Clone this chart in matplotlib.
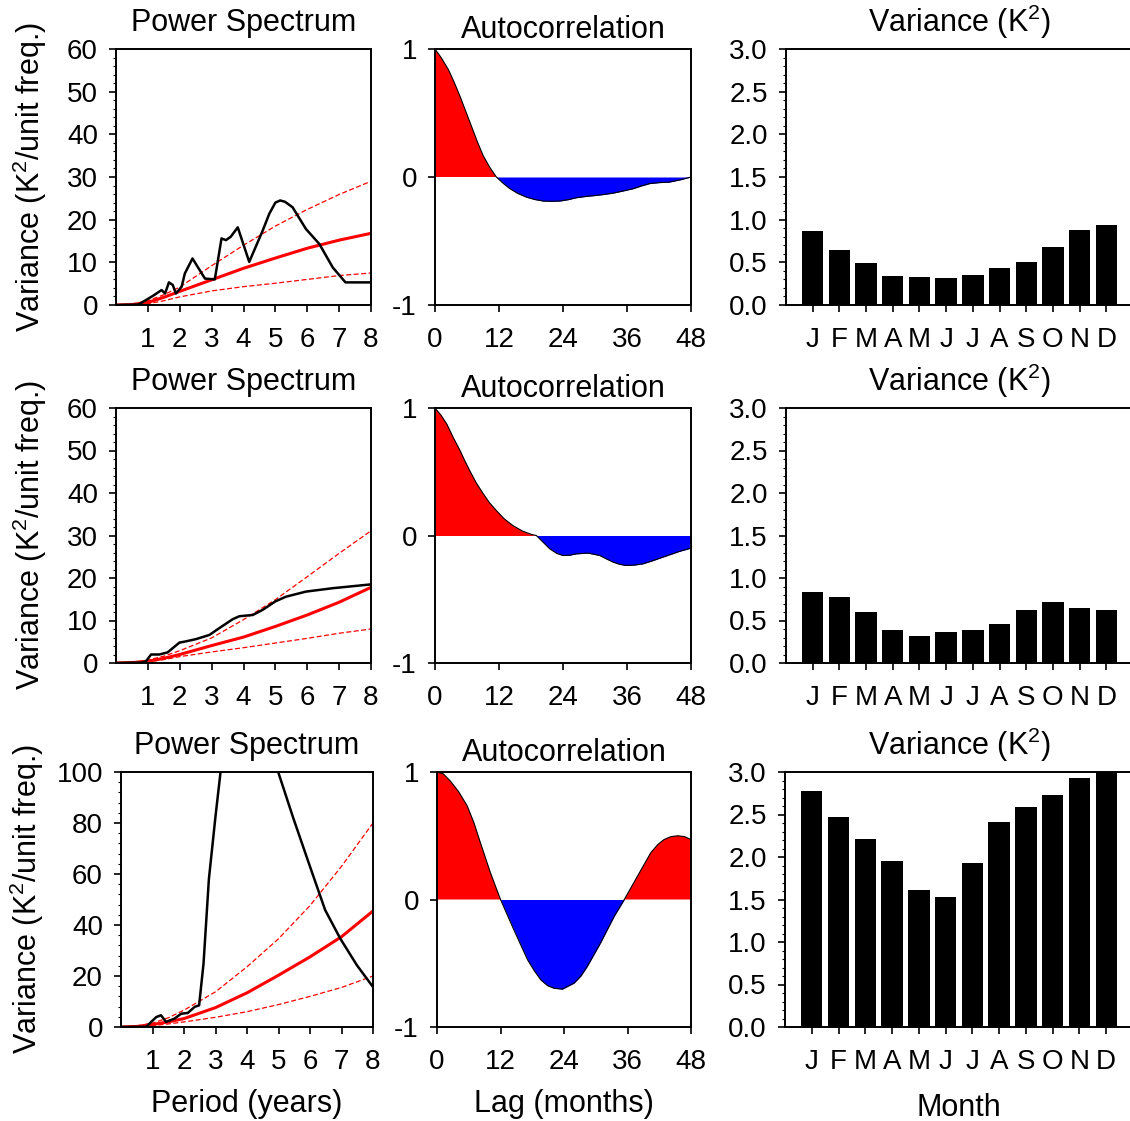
import matplotlib
matplotlib.use("Agg")
import matplotlib.pyplot as plt
from matplotlib.ticker import AutoMinorLocator, FormatStrFormatter

plt.rcParams['font.family'] = ['Liberation Sans', 'DejaVu Sans']
plt.rcParams['mathtext.fontset'] = 'custom'
plt.rcParams['mathtext.rm'] = 'Liberation Sans'
plt.rcParams['mathtext.it'] = 'Liberation Sans'
plt.rcParams['axes.unicode_minus'] = False

# ---- power spectrum (period in years) ----
period1 = [0, 0.7, 0.95, 1.17, 1.43, 1.54, 1.66, 1.78, 1.88, 2.06, 2.16, 2.4, 2.79, 3.1, 3.31,
           3.45, 3.6, 3.82, 4.18, 4.6, 4.81, 5.0, 5.15, 5.3, 5.54, 5.96, 6.38, 6.8, 7.2, 8.0]
power1 = [0, 0.1, 1.2, 2.2, 3.5, 2.7, 5.3, 4.7, 2.7, 4.3, 7.4, 10.9, 6.2, 6.0, 15.6,
          15.2, 16.0, 18.2, 10.1, 17.4, 21.4, 24.0, 24.5, 24.2, 22.9, 17.8, 14.3, 8.8, 5.3, 5.3]

period2 = [0, 0.8, 0.94, 1.1, 1.36, 1.62, 1.99, 2.2, 2.5, 2.93, 3.24, 3.66, 3.87, 4.29, 4.6,
           5.0, 5.33, 5.96, 6.8, 8.0]
power2 = [0, 0.1, 0.4, 2.0, 2.0, 2.5, 4.8, 5.1, 5.6, 6.6, 8.2, 10.3, 11.0, 11.3, 12.5,
          14.5, 15.6, 16.8, 17.6, 18.5]

period3 = [0, 0.8, 1.12, 1.27, 1.43, 1.7, 1.91, 2.12, 2.34, 2.48, 2.62, 2.79, 3.0, 3.16, 3.5,
           4.0, 4.5, 4.99, 5.47, 6.0, 6.48, 6.96, 7.49, 8.0]
power3 = [0, 0.1, 3.9, 4.6, 2.0, 3.3, 5.2, 5.5, 7.9, 8.5, 24.9, 58, 82.6, 100, 135,
          150, 130, 100, 81.9, 62.9, 45.9, 34.7, 24.2, 15.7]

# red-noise spectrum and its confidence bounds
red_period = [0, 0.5, 1, 1.5, 2, 3, 4, 5, 6, 7, 8]
markov1 = [0, 0.1, 0.6, 1.8, 3.2, 5.9, 8.6, 11.0, 13.3, 15.2, 16.8]
upper1 = [0, 0.2, 1.0, 2.4, 4.2, 9.2, 14.0, 18.5, 22.4, 25.9, 29.0]
lower1 = [0, 0.05, 0.3, 1.0, 1.9, 3.3, 4.3, 5.1, 6.0, 6.9, 7.5]
markov2 = [0, 0.1, 0.4, 1.1, 2.0, 4.1, 6.1, 8.6, 11.3, 14.3, 17.8]
upper2 = [0, 0.15, 0.7, 1.6, 2.9, 5.9, 10.2, 14.9, 20.3, 25.8, 31.1]
lower2 = [0, 0.05, 0.3, 0.8, 1.5, 2.6, 3.6, 4.7, 5.8, 7.0, 8.0]
markov3 = [0, 0.2, 1.0, 2.0, 3.3, 7.6, 13.4, 20.3, 27.5, 35.4, 45.5]
upper3 = [0, 0.4, 1.5, 3.6, 6.6, 13.8, 23.6, 34.6, 47.6, 63.0, 80.0]
lower3 = [0, 0.1, 0.5, 1.2, 2.0, 3.8, 6.0, 8.8, 12.0, 15.5, 20.0]

# ---- autocorrelation (lag in months) ----
lag1 = [0, 1.2, 2.5, 3.6, 4.7, 5.8, 6.9, 8.0, 9.0, 10.2, 11.5, 12.8, 14, 15.5, 17.1, 18.7, 20.3,
        21.8, 23.4, 25, 26.5, 28.3, 30.2, 31.8, 33.4, 35.2, 37.1, 38.7, 40.2, 42, 43.9, 46, 48]
acf1 = [1.0, 0.93, 0.84, 0.74, 0.63, 0.51, 0.39, 0.27, 0.17, 0.08, 0.0, -0.05, -0.09, -0.128,
        -0.157, -0.176, -0.188, -0.19, -0.188, -0.177, -0.162, -0.152, -0.144, -0.136, -0.126,
        -0.11, -0.092, -0.07, -0.052, -0.044, -0.04, -0.022, 0.0]
lag2 = [0, 1.1, 2.2, 3.4, 4.7, 5.6, 6.5, 7.7, 9.0, 10.2, 11.5, 13, 14.6, 16.4, 18.1, 19, 20.2,
        21.5, 22.8, 24, 25.2, 26.5, 28.7, 30.9, 32.2, 33.4, 34.6, 35.8, 37.4, 39, 40.8, 42.7,
        44.3, 45.8, 48]
acf2 = [1.0, 0.945, 0.875, 0.77, 0.666, 0.585, 0.51, 0.415, 0.33, 0.258, 0.196, 0.13, 0.078,
        0.035, 0.008, 0.0, -0.05, -0.104, -0.14, -0.157, -0.155, -0.144, -0.138, -0.157,
        -0.185, -0.209, -0.226, -0.235, -0.232, -0.222, -0.198, -0.17, -0.147, -0.125, -0.099]
lag3 = [0, 1.2, 2.5, 4.1, 5.7, 7.0, 8.2, 10.1, 12, 14.5, 17.1, 18.4, 19.6, 20.9, 22.1, 23.7,
        25.9, 27.2, 28.4, 30.9, 33.5, 35.4, 37.9, 40.4, 41.7, 42.9, 44.2, 45.5, 46.8, 48]
acf3 = [1.0, 0.985, 0.93, 0.845, 0.735, 0.6, 0.446, 0.21, 0.0, -0.236, -0.472, -0.56, -0.63,
        -0.676, -0.696, -0.703, -0.656, -0.6, -0.525, -0.341, -0.131, 0.0, 0.184, 0.367, 0.43,
        0.47, 0.493, 0.5, 0.493, 0.47]

# ---- monthly variance ----
months = ['J', 'F', 'M', 'A', 'M', 'J', 'J', 'A', 'S', 'O', 'N', 'D']
var1 = [0.87, 0.644, 0.49, 0.334, 0.326, 0.314, 0.353, 0.432, 0.506, 0.683, 0.879, 0.942]
var2 = [0.833, 0.782, 0.602, 0.383, 0.313, 0.364, 0.391, 0.458, 0.618, 0.723, 0.645, 0.618]
var3 = [2.776, 2.472, 2.213, 1.949, 1.61, 1.531, 1.929, 2.409, 2.59, 2.732, 2.925, 3.02]

W, H = 1130, 1121
fig = plt.figure(figsize=(W / 100, H / 100), dpi=100)


def px_axes(l, t, r, b):
    return fig.add_axes([l / W, 1 - b / H, (r - l) / W, (b - t) / H])


def style(ax):
    for s in ax.spines.values():
        s.set_linewidth(1.4)
    ax.tick_params(which='major', direction='out', length=5, width=1.2, labelsize=20)
    ax.tick_params(which='minor', direction='out', length=2.5, width=0.8)
    ax.tick_params(axis='x', pad=11)
    ax.tick_params(axis='y', pad=8)


rows = [
    dict(box=(116, 49, 371, 305, 435, 691, 786),
         period=period1, power=power1, mk=markov1, hi=upper1, lo=lower1, ymax=60,
         lag=lag1, acf=acf1, var=var1),
    dict(box=(116, 408, 371, 663, 435, 691, 786),
         period=period2, power=power2, mk=markov2, hi=upper2, lo=lower2, ymax=60,
         lag=lag2, acf=acf2, var=var2),
    dict(box=(121, 772, 373, 1027, 437, 691, 785),
         period=period3, power=power3, mk=markov3, hi=upper3, lo=lower3, ymax=100,
         lag=lag3, acf=acf3, var=var3),
]

for i, r in enumerate(rows):
    l1, t, r1, b, l2, r2, l3 = r['box']

    # power spectrum
    ax = px_axes(l1, t, r1, b)
    ax.plot(red_period, r['hi'], color='red', lw=0.9, ls=(0, (4, 2)))
    ax.plot(red_period, r['lo'], color='red', lw=0.9, ls=(0, (4, 2)))
    ax.plot(red_period, r['mk'], color='red', lw=2.2)
    ax.plot(r['period'], r['power'], color='black', lw=1.8)
    ax.set_xlim(0, 8)
    ax.set_ylim(0, r['ymax'])
    ax.set_xticks(range(1, 9))
    ax.set_yticks(range(0, r['ymax'] + 1, 20 if r['ymax'] == 100 else 10))
    ax.yaxis.set_minor_locator(AutoMinorLocator(5))
    style(ax)
    ax.set_title('Power Spectrum', fontsize=22, pad=13)
    ax.set_ylabel('Variance (K$^2$/unit freq.)', fontsize=22, va='center')
    ax.yaxis.set_label_coords(-0.337 if i < 2 else -0.373, 0.5)
    if i == 2:
        ax.set_xlabel('Period (years)', fontsize=22, va='center')
        ax.xaxis.set_label_coords(0.5, -0.302)

    # autocorrelation
    ax = px_axes(l2, t, r2, b)
    lag, acf = r['lag'], r['acf']
    ax.fill_between(lag, acf, 0, where=[v >= 0 for v in acf], interpolate=True,
                    color='red', lw=0)
    ax.fill_between(lag, acf, 0, where=[v <= 0 for v in acf], interpolate=True,
                    color='blue', lw=0)
    ax.plot(lag, acf, color='black', lw=0.8)
    ax.set_xlim(0, 48)
    ax.set_ylim(-1, 1)
    ax.set_xticks([0, 12, 24, 36, 48])
    ax.set_yticks([-1, 0, 1])
    style(ax)
    ax.set_title('Autocorrelation', fontsize=22, pad=8)
    if i == 2:
        ax.set_xlabel('Lag (months)', fontsize=22, va='center')
        ax.xaxis.set_label_coords(0.5, -0.302)

    # monthly variance
    ax = px_axes(l3, t, 1133, b)
    ax.bar(range(1, 13), r['var'], width=0.8, color='black')
    ax.set_xlim(0, 13)
    ax.set_ylim(0, 3)
    ax.set_xticks(range(1, 13))
    ax.set_xticklabels(months)
    ax.set_yticks([0, 0.5, 1.0, 1.5, 2.0, 2.5, 3.0])
    ax.yaxis.set_major_formatter(FormatStrFormatter('%.1f'))
    ax.yaxis.set_minor_locator(AutoMinorLocator(5))
    style(ax)
    ax.set_title('Variance (K$^2$)', fontsize=22, pad=12)
    if i == 2:
        ax.set_xlabel('Month', fontsize=22, va='center')
        ax.xaxis.set_label_coords(0.5, -0.318)

fig.savefig('out.png', dpi=100)
